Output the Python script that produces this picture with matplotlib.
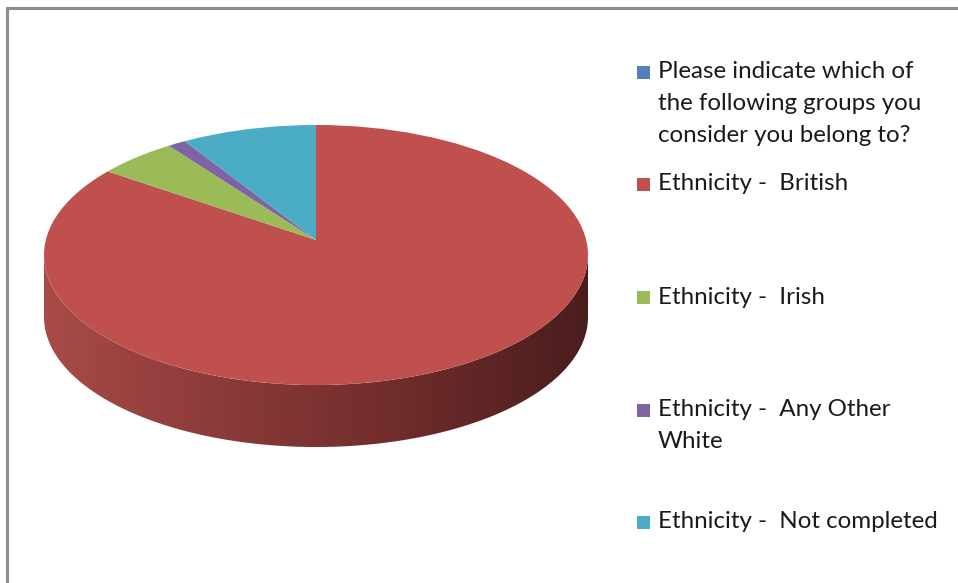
import numpy as np
import matplotlib
matplotlib.use("Agg")
import matplotlib.pyplot as plt
from matplotlib.patches import Polygon, Rectangle, Circle
from matplotlib.colors import LinearSegmentedColormap

labels = ["Please indicate which of\nthe following groups you\nconsider you belong to?",
          "Ethnicity -  British",
          "Ethnicity -  Irish",
          "Ethnicity -  Any Other\nWhite",
          "Ethnicity -  Not completed"]
values = [0.0, 84.6, 5.2, 1.2, 9.0]
colors = ["#4F81BD", "#C0504D", "#9BBB59", "#8064A2", "#4BACC6"]
legend_y = [72, 184, 297, 410, 522]  # pixel y of first line of each entry

W, H = 958, 583
fig = plt.figure(figsize=(W / 100, H / 100), dpi=100)
fig.patch.set_facecolor("white")

# border (left & top)
bax = fig.add_axes([0, 0, 1, 1])
bax.set_xlim(0, W); bax.set_ylim(H, 0); bax.axis("off")
bax.plot([7, 7, W + 5], [H, 8, 8], color="#8C8C8C", lw=2.2, solid_joinstyle="miter")

# pie axes: unit circle -> ellipse with a=272px, b=130px centred at (316,255)
cx, cy, a, b = 316, 255, 272, 130
x0, x1, y0, y1 = -1.06, 1.06, -1.62, 1.06
left = (cx + a * x0) / W
width = a * (x1 - x0) / W
top_px = cy - b * y1
bot_px = cy - b * y0
ax = fig.add_axes([left, (H - bot_px) / H, width, (bot_px - top_px) / H])
depth = 62 / b
apex_dy = 15 / b  # perspective: apex sits above ellipse centre

# side wall (front half), gradient
t = np.linspace(np.pi, 2 * np.pi, 300)
xs = np.cos(t); ys = np.sin(t)
verts = np.concatenate([np.column_stack([xs, ys]),
                        np.column_stack([xs[::-1], ys[::-1] - depth])])
side = Polygon(verts, closed=True, facecolor="none", edgecolor="none")
ax.add_patch(side)
cmap = LinearSegmentedColormap.from_list("side", ["#A84B49", "#8A3A38", "#6E2C2B", "#4A1D1D"])
grad = np.linspace(0, 1, 256).reshape(1, -1)
im = ax.imshow(grad, cmap=cmap, extent=[-1, 1, -1 - depth, 0.2], aspect="auto",
               interpolation="bicubic", zorder=1)
im.set_clip_path(side)

# top face
face = Circle((0, 0), 1.0, facecolor="none", edgecolor="none")
ax.add_patch(face)
wedges, _ = ax.pie(values, colors=colors, startangle=90, counterclock=False,
                   radius=1.5, center=(0, apex_dy), frame=True,
                   wedgeprops=dict(linewidth=0, antialiased=True))
for w in wedges:
    w.set_zorder(2)
    w.set_clip_on(True)
    w.set_clip_path(face)
ax.set_aspect("auto")
ax.set_xlim(x0, x1); ax.set_ylim(y0, y1)
ax.axis("off")

# legend
fs = 17.4
for lab, col, ly in zip(labels, colors, legend_y):
    bax.add_patch(Rectangle((637, ly - 6.5), 13, 13, facecolor=col, edgecolor="none"))
    for i, line in enumerate(lab.split("\n")):
        bax.text(658, ly + i * 31.5, line, fontsize=fs, family=["Lato", "DejaVu Sans"],
                 color="#1A1A1A", va="center", ha="left")

fig.savefig("out.png", dpi=100, facecolor="white")
